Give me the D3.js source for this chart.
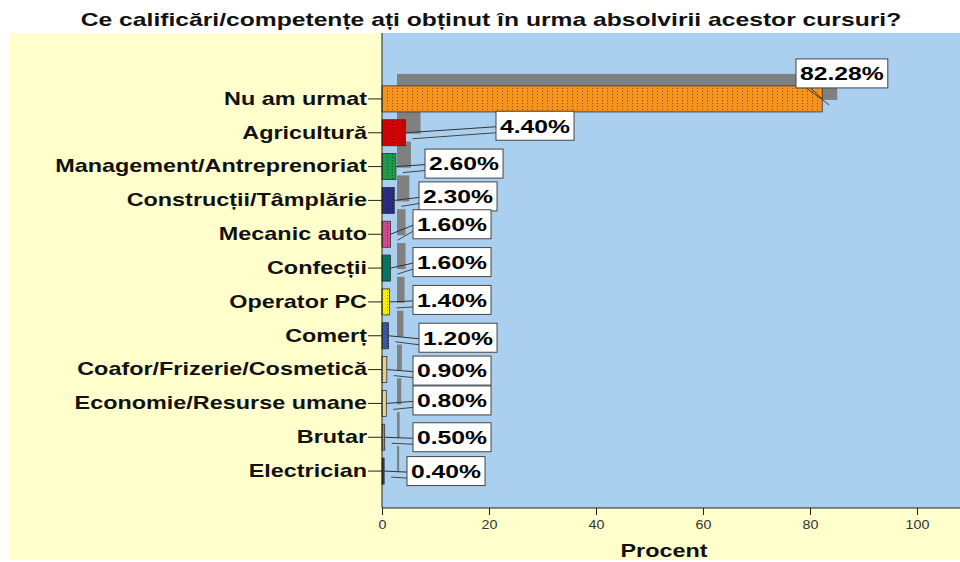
<!DOCTYPE html>
<html>
<head>
<meta charset="utf-8">
<script src="https://cdn.jsdelivr.net/npm/d3@7"></script>
<style>
  body { margin: 0; background: #fff; }
  text { font-family: "Liberation Sans", Arial, sans-serif; }
</style>
</head>
<body>
<svg id="chart" width="960" height="562"></svg>
<script>
// data
const categories = [
  "Nu am urmat", "Agricultură", "Management/Antreprenoriat",
  "Construcții/Tâmplărie", "Mecanic auto", "Confecții", "Operator PC",
  "Comerț", "Coafor/Frizerie/Cosmetică", "Economie/Resurse umane",
  "Brutar", "Electrician"
];
const percents = [82.28, 4.40, 2.60, 2.30, 1.60, 1.60, 1.40, 1.20, 0.90, 0.80, 0.50, 0.40];
const xTicks = [0, 20, 40, 60, 80, 100];

// styling
const barColors = [
  "#f7941e", "#d40000", "#1f9a4b", "#2b2e80", "#d2478e", "#007862",
  "#f5ee00", "#3a55a8", "#e3d08c", "#e6d39a", "#9a9266", "#3a3a3a"
];
// label boxes: left edge (px) and vertical shift from the bar centre (px)
const labelLeft = [796, 496, 425, 419, 413, 413, 413, 419, 413, 413, 413, 407];
const labelShift = [-25.5, -7, -3, -4, -10, -6, -2, 2, 1, -3, 0, 0];

const YELLOW = "#ffffcc";
const BLUE = "#abcfee";
const SHADOW = "#808080";
const SX = 1.3; // the original is horizontally stretched

var svg = d3.select("#chart");

var plot = { left: 382, right: 960, top: 33, bottom: 508 };

var x = d3.scaleLinear().domain([0, 100]).range([382, 917]);
var y = d3
  .scaleBand()
  .domain(categories)
  .range([82, 488])
  .paddingInner(0.23)
  .paddingOuter(0.115);

// backgrounds
svg.append("rect")
  .attr("x", 10).attr("y", plot.top)
  .attr("width", 950).attr("height", 560 - plot.top)
  .attr("fill", YELLOW);

svg.append("rect")
  .attr("x", plot.left).attr("y", plot.top)
  .attr("width", plot.right - plot.left).attr("height", plot.bottom - plot.top)
  .attr("fill", BLUE);

// dotted overlay pattern
var defs = svg.append("defs");
var pat = defs.append("pattern")
  .attr("id", "dots")
  .attr("patternUnits", "userSpaceOnUse")
  .attr("width", 5).attr("height", 3);
pat.append("rect")
  .attr("x", 2).attr("y", 1).attr("width", 1).attr("height", 1)
  .attr("fill", "rgba(0,0,0,0.45)");

var rows = categories.map(function(c, i) {
  return { cat: c, val: percents[i], color: barColors[i], i: i };
});

// shadows first
svg.append("g")
  .selectAll("rect")
  .data(rows)
  .enter()
  .append("rect")
  .attr("x", x(0) + 15)
  .attr("y", function(d) { return y(d.cat) - 12; })
  .attr("width", function(d) { return x(d.val) - x(0); })
  .attr("height", y.bandwidth())
  .attr("fill", SHADOW);

// bars
var bars = svg.append("g");
bars.selectAll("rect.bar")
  .data(rows)
  .enter()
  .append("rect")
  .attr("class", "bar")
  .attr("x", x(0))
  .attr("y", function(d) { return y(d.cat); })
  .attr("width", function(d) { return x(d.val) - x(0); })
  .attr("height", y.bandwidth())
  .attr("fill", function(d) { return d.color; })
  .attr("stroke", "#333")
  .attr("stroke-width", 0.8);

bars.selectAll("rect.dots")
  .data(rows)
  .enter()
  .append("rect")
  .attr("class", "dots")
  .attr("x", x(0))
  .attr("y", function(d) { return y(d.cat); })
  .attr("width", function(d) { return x(d.val) - x(0); })
  .attr("height", y.bandwidth())
  .attr("fill", "url(#dots)");

// value labels with leader lines
var labels = svg.append("g")
  .selectAll("g")
  .data(rows)
  .enter()
  .append("g");

labels.each(function(d) {
  var g = d3.select(this);
  var cy = y(d.cat) + y.bandwidth() / 2;
  var by = cy + labelShift[d.i];
  var bx = labelLeft[d.i];

  g.append("line")
    .attr("x1", x(d.val)).attr("y1", cy)
    .attr("x2", bx).attr("y2", by + 1)
    .attr("stroke", "#333").attr("stroke-width", 1);
  g.append("line")
    .attr("x1", x(d.val) + 7).attr("y1", cy + 6)
    .attr("x2", bx).attr("y2", by + 7)
    .attr("stroke", "#444").attr("stroke-width", 1);

  var box = g.append("rect")
    .attr("y", by - 14.5)
    .attr("height", 29)
    .attr("fill", "#fff")
    .attr("stroke", "#444")
    .attr("stroke-width", 1);

  var t = g.append("text")
    .attr("font-size", 19)
    .attr("font-weight", "bold")
    .attr("fill", "#000")
    .attr("dy", "0.36em")
    .attr("y", by)
    .text(d.val.toFixed(2) + "%");
  var w = t.node().getComputedTextLength() * SX;
  t.attr("transform", "scale(" + SX + ",1)")
    .attr("x", (bx + 4) / SX);
  box.attr("x", bx).attr("width", w + 8);
});

// y axis
var yAxis = svg.append("g")
  .attr("transform", "translate(" + plot.left + ",0)")
  .call(d3.axisLeft(y).tickSize(14).tickPadding(1).tickSizeOuter(0));
yAxis.select(".domain").attr("stroke", "#222").attr("d", "M0," + plot.top + "V" + plot.bottom);
yAxis.selectAll(".tick line").attr("stroke", "#222");
yAxis.selectAll(".tick text")
  .attr("font-family", "Liberation Sans, Arial, sans-serif")
  .attr("font-size", 18)
  .attr("font-weight", "bold")
  .attr("fill", "#111")
  .attr("x", -15 / SX)
  .attr("transform", "scale(" + SX + ",1)");

// x axis
var xAxis = svg.append("g")
  .attr("transform", "translate(0," + plot.bottom + ")")
  .call(d3.axisBottom(x).tickValues(xTicks).tickSize(7).tickSizeOuter(0));
xAxis.select(".domain").attr("stroke", "#222").attr("d", "M" + plot.left + ",0H" + plot.right);
xAxis.selectAll(".tick line").attr("stroke", "#222");
xAxis.selectAll(".tick text")
  .attr("font-family", "Liberation Sans, Arial, sans-serif")
  .attr("font-size", 13)
  .attr("fill", "#333")
  .attr("y", 12)
  .attr("transform", "scale(1.1,1)");

// axis title
svg.append("text")
  .attr("transform", "scale(" + SX + ",1)")
  .attr("x", 664 / SX)
  .attr("y", 557)
  .attr("text-anchor", "middle")
  .attr("font-size", 18)
  .attr("font-weight", "bold")
  .attr("fill", "#111")
  .text("Procent");

// chart title
svg.append("text")
  .attr("transform", "scale(1.37,1)")
  .attr("x", 491 / 1.37)
  .attr("y", 26)
  .attr("text-anchor", "middle")
  .attr("font-size", 18)
  .attr("font-weight", "bold")
  .attr("fill", "#111")
  .text("Ce calificări/competențe ați obținut în urma absolvirii acestor cursuri?");
</script>
</body>
</html>
